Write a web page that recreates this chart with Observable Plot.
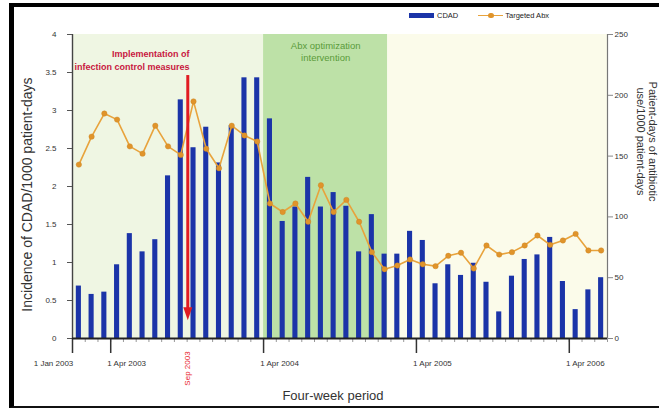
<!DOCTYPE html>
<html>
<head>
<meta charset="utf-8">
<script src="https://cdn.jsdelivr.net/npm/d3@7"></script>
<script src="https://cdn.jsdelivr.net/npm/@observablehq/plot@0.6"></script>
<style>
  html, body { margin: 0; padding: 0; background: #fff; }
  #wrap { position: relative; width: 659px; height: 408px; overflow: hidden;
          font-family: "Liberation Sans", Arial, sans-serif; }
  #wrap svg { position: absolute; left: 0; top: 0; }
  #frame { position: absolute; left: 9px; top: 3px; width: 660px; height: 399px;
           border-top: 4px solid #000; border-left: 5px solid #000; border-bottom: 2px solid #111;
           pointer-events: none; z-index: 2; }
  #legend { position: absolute; top: 10px; left: 409px; height: 11px; z-index: 3;
            display: flex; align-items: center; font-size: 7.5px; color: #222; }
  .sw-bar { width: 25px; height: 5px; background: #1b34a8; margin-right: 3px; }
  .sw-line { position: relative; width: 25px; height: 1.6px; background: #e8a33c; margin: 0 2px 0 20px; }
  .sw-line::after { content: ""; position: absolute; left: 10px; top: -2px; width: 5.5px; height: 5.5px;
                    border-radius: 50%; background: #e0942b; }
</style>
</head>
<body>
<div id="wrap">
  <div id="frame"></div>
  <div id="legend">
    <span class="sw-bar"></span><span>CDAD</span>
    <span class="sw-line"></span><span>Targeted Abx</span>
  </div>
</div>
<script>
// Four-week periods, numbered from the first period of 2003
const periods = d3.range(1, 43);

// Incidence of CDAD per 1000 patient-days
const cdad = [
  0.69, 0.58, 0.61, 0.97, 1.38, 1.14, 1.30, 2.14, 3.14, 2.51,
  2.78, 2.31, 2.80, 3.43, 3.43, 2.89, 1.54, 1.73, 2.12, 1.73,
  1.92, 1.74, 1.14, 1.63, 1.11, 1.11, 1.41, 1.29, 0.72, 0.97,
  0.83, 0.99, 0.74, 0.35, 0.82, 1.04, 1.10, 1.33, 0.75, 0.38,
  0.64, 0.80
];

// Patient-days of targeted antibiotic use per 1000 patient-days
const targetedAbx = [
  143, 166, 185, 180, 158, 152, 175, 158, 151, 195,
  156, 140, 175, 167, 162, 111, 104, 111, 96, 126,
  104, 114, 96, 71, 57, 60, 65, 61, 59.5, 68,
  70.5, 57.6, 76.5, 69, 71, 76.5, 84.7, 77, 80.6, 86,
  72.4, 72.4
];

// Left and right axis ticks
const cdadTicks = [0, 0.5, 1, 1.5, 2, 2.5, 3, 3.5, 4];
const abxTicks = [0, 50, 100, 150, 200, 250];

// Calendar ticks on the period axis (period boundaries)
const dateTickPeriods = [0.5, 3.5, 15.5, 27.5, 39.5];
const dateTickLabels = ["1 Jan 2003", "1 Apr 2003", "1 Apr 2004", "1 Apr 2005", "1 Apr 2006"];

// Study phases: before, during and after the antibiotic optimization intervention
const phaseBounds = [0.5, 15.5, 25.25, 42.5];

// Start of infection control measures (September 2003)
const infectionControlPeriod = 9.55;

const abxMax = 250, cdadMax = 4;
const k = cdadMax / abxMax; // right-axis units to left-axis units

const rows = periods.map((p, i) => ({p, cdad: cdad[i], abx: targetedAbx[i]}));
const dateTicks = dateTickPeriods.map((p, i) => ({p, label: dateTickLabels[i]}));
const phases = phaseBounds.slice(1).map((x2, i) => ({x1: phaseBounds[i], x2}));

const font = "'Liberation Sans', Arial, sans-serif";

const chart = Plot.plot({
  width: 659,
  height: 408,
  marginLeft: 72,
  marginRight: 52,
  marginTop: 34,
  marginBottom: 70,
  x: {domain: [0.5, 42.5], axis: null},
  y: {domain: [0, cdadMax], axis: null},
  style: {fontFamily: font, background: "transparent", overflow: "hidden"},
  marks: [
    // phase backgrounds
    Plot.rect([phases[0]], {x1: "x1", x2: "x2", y1: 0, y2: cdadMax, fill: "#eff6e3"}),
    Plot.rect([phases[1]], {x1: "x1", x2: "x2", y1: 0, y2: cdadMax, fill: "#bde1a7"}),
    Plot.rect([phases[2]], {x1: "x1", x2: "x2", y1: 0, y2: cdadMax, fill: "#fbfbea"}),

    // CDAD bars
    Plot.rectY(rows, {x1: d => d.p - 0.2, x2: d => d.p + 0.2, y: "cdad", fill: "#1b34a8"}),

    // targeted antibiotic use, on the right-hand scale
    Plot.line(rows, {x: "p", y: d => d.abx * k, stroke: "#e8a33c", strokeWidth: 1.6}),
    Plot.dot(rows, {x: "p", y: d => d.abx * k, r: 2.7, fill: "#e0942b", stroke: "#c98422", strokeWidth: 0.4}),

    // left axis
    Plot.ruleX([0.5], {y1: 0, y2: cdadMax, stroke: "#444", strokeWidth: 1.4}),
    Plot.axisY(cdadTicks, {anchor: "left", tickSize: 5, tickPadding: 11, fontSize: 8, fill: "#333",
      stroke: "#555", tickFormat: d => String(d), label: null}),

    // right axis
    Plot.ruleX([42.5], {y1: 0, y2: cdadMax, stroke: "#777", strokeWidth: 1.2}),
    Plot.axisY(abxTicks.map(v => v * k), {anchor: "right", tickSize: 5, tickPadding: 2, fontSize: 8,
      fill: "#333", stroke: "#888", tickFormat: d => String(Math.round(d / k)), label: null}),

    // period axis: baseline, minor ticks at each period boundary, major calendar ticks
    Plot.axisX(d3.range(0.5, 43, 1), {anchor: "bottom", tickSize: 4, stroke: "#999", fill: "none", label: null}),
    Plot.axisX(dateTickPeriods, {anchor: "bottom", tickSize: 15, stroke: "#333", strokeWidth: 1.5, fill: "none", label: null}),
    Plot.ruleY([0], {stroke: "#222", strokeWidth: 2}),
    Plot.text(dateTicks.slice(0, 1), {x: "p", y: 0, text: "label", dy: 25, dx: -19, fontSize: 8, fill: "#333"}),
    Plot.text(dateTicks.slice(1), {x: "p", y: 0, text: "label", dy: 25, dx: 16, fontSize: 8, fill: "#333"}),

    // infection control measures marker
    Plot.text([infectionControlPeriod], {x: d => d, y: 0, text: () => "Sep 2003", rotate: -90, dy: 30,
      fontSize: 8, fill: "#e8242c"}),
    Plot.ruleX([infectionControlPeriod], {y1: 3.46, y2: 0.38, stroke: "#e11b22", strokeWidth: 3}),
    Plot.vector([infectionControlPeriod], {x: d => d, y: 0.24, length: 13, r: 4.5, rotate: 180,
      shape: "spike", anchor: "end", fill: "#e11b22", stroke: "none"}),
    Plot.text([infectionControlPeriod], {x: d => d + 0.13, y: 3.67, text: () => "Implementation of\ninfection control measures",
      textAnchor: "end", lineAnchor: "middle", lineHeight: 1.37, fontSize: 9, fill: "#c8173f", fontWeight: 600}),

    // intervention label, centred on its phase
    Plot.text([phases[1]], {x: d => (d.x1 + d.x2) / 2, y: 3.78, text: () => "Abx optimization\nintervention",
      lineAnchor: "middle", lineHeight: 1.23, fontSize: 9.5, fill: "#5a9b3a"}),

    // axis titles
    Plot.text(["Incidence of CDAD/1000 patient-days"], {frameAnchor: "left", textAnchor: "middle", rotate: -90,
      dx: -45, dy: 8, fontSize: 14, fill: "#333"}),
    Plot.text(["Four-week period"], {frameAnchor: "bottom", dy: 61, dx: -7, fontSize: 13, fill: "#333"}),
    Plot.text(["Patient-days of antibiotic\nuse/1000 patient-days"], {frameAnchor: "right", textAnchor: "middle",
      rotate: 90, dx: 39, dy: -45, lineHeight: 1.1, fontSize: 11, fill: "#333"})
  ]
});

document.getElementById("wrap").appendChild(chart);
</script>
</body>
</html>
